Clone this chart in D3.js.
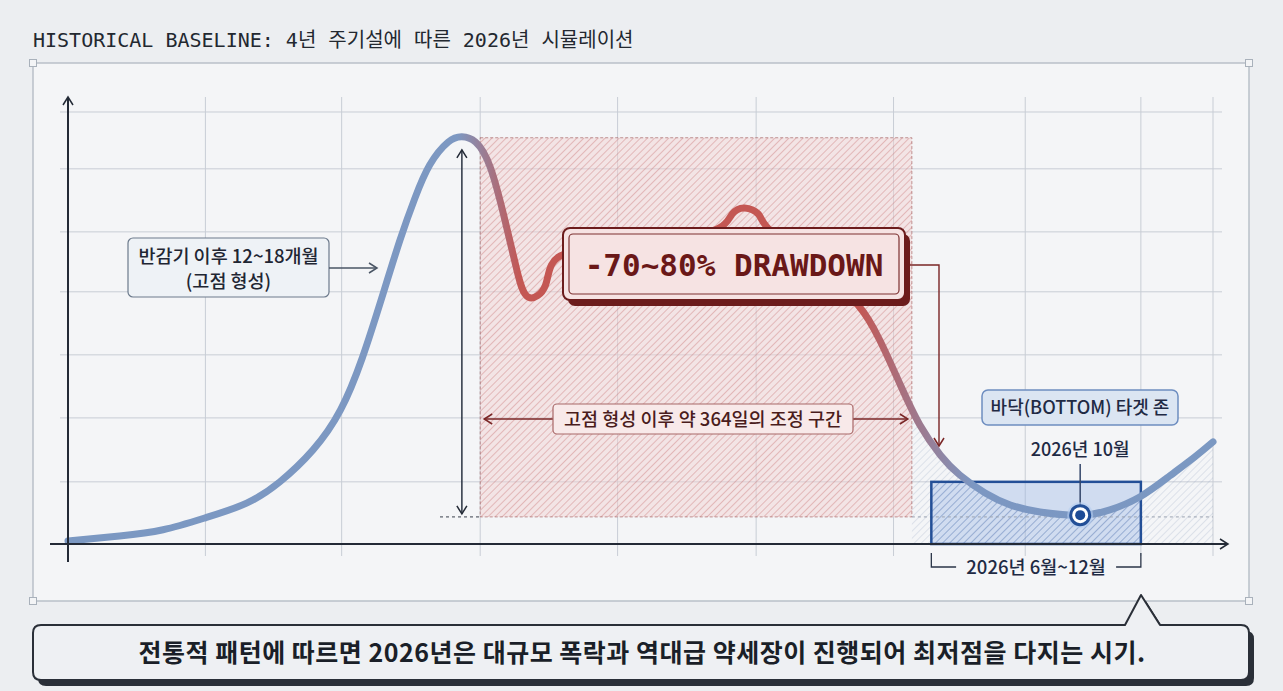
<!DOCTYPE html>
<html>
<head>
<meta charset="utf-8">
<script src="https://cdn.jsdelivr.net/npm/d3@7"></script>
<style>
    body { margin: 0; background: #eceef1; }
    svg { display: block; }
</style>
</head>
<body>
<div id="chart"></div>
<script>
// Cycle curve: t = position along the cycle (0..100), v = relative price level (0..100)
const curveT = [0, 4.5, 8.3, 12.0, 15.6, 18.5, 21.4, 23.8, 25.7, 27.4, 29.0, 30.3, 31.6, 33.2, 34.4, 35.6, 36.9, 38.2, 39.2,
    40.2, 41.7, 43.0, 48.2, 53.4, 56.9, 58.0, 59.1, 60.3, 61.1, 63.9, 66.6, 69.0, 70.9, 72.7, 74.4, 76.2, 77.9, 80.1,
    82.3, 84.9, 88.4, 91.0, 93.6, 96.2, 98.4, 100];
const curveV = [0.7, 1.8, 3.2, 5.9, 9.2, 14.0, 21.2, 30.2, 41.9, 55.4, 68.5, 77.9, 85.4, 90.5, 91.7, 90.5, 84.7, 72.5, 61.7,
    55.6, 58.3, 64.9, 66.4, 68.5, 71.2, 74.3, 75.7, 74.3, 71.2, 64.9, 59.2, 53.8, 45.9, 35.8, 26.8, 20.0, 15.5, 11.5,
    8.8, 7.2, 6.5, 7.7, 10.6, 15.3, 19.6, 23.0];

// grid lines
const gridT = [12.0, 23.9, 36.0, 48.0, 60.1, 72.1, 83.6, 93.7, 100];
const gridV = [97.3, 84.5, 70.3, 56.8, 42.6, 28.4, 14.0];

// zones
const peakT = 34.4, peakV = 91.7;
const floorV = 6.1;
const drawdownT = [36.0, 73.7];
const drawdownV = [floorV, 91.5];
const bottomZoneT = [75.4, 93.7];
const bottomZoneV = [0, 14.0];
const bottomT = 88.4, bottomV = 6.5;
const tailHatchT = [73.7, 100];

// texts
const titleText = 'HISTORICAL BASELINE: 4년 주기설에 따른 2026년 시뮬레이션';
const halvingLines = ['반감기 이후 12~18개월', '(고점 형성)'];
const drawdownLabel = '-70~80% DRAWDOWN';
const correctionLabel = '고점 형성 이후 약 364일의 조정 구간';
const bottomZoneLabel = '바닥(BOTTOM) 타겟 존';
const bottomPointLabel = '2026년 10월';
const bottomRangeLabel = '2026년 6월~12월';
const footerText = '전통적 패턴에 따르면 2026년은 대규모 폭락과 역대급 약세장이 진행되어 최저점을 다지는 시기.';

const width = 1283, height = 691;
const KR = '"Noto Sans CJK KR", "Noto Sans", sans-serif';
const MONO = '"DejaVu Sans Mono", "Noto Sans CJK KR", monospace';

const svg = d3.select('#chart').append('svg')
    .attr('width', width)
    .attr('height', height);

const x = d3.scaleLinear().domain([0, 100]).range([68, 1213]);
const y = d3.scaleLinear().domain([0, 100]).range([544, 100]);
const smooth = d3.curveNatural;

const defs = svg.append('defs');

// hatch patterns
function hatch(id, bg, line, size) {
    const p = defs.append('pattern')
        .attr('id', id)
        .attr('patternUnits', 'userSpaceOnUse')
        .attr('width', size).attr('height', size)
        .attr('patternTransform', 'rotate(45)');
    if (bg) p.append('rect').attr('width', size).attr('height', size).attr('fill', bg);
    p.append('line')
        .attr('x1', 0).attr('y1', 0).attr('x2', 0).attr('y2', size)
        .attr('stroke', line).attr('stroke-width', 1.4);
}
hatch('hatchRed', 'rgba(242,206,206,0.45)', 'rgba(190,95,95,0.48)', 5);
hatch('hatchGray', null, 'rgba(140,158,185,0.35)', 5);
hatch('hatchBlue', null, 'rgba(55,95,165,0.42)', 5);

// curve gradient blue -> red -> blue
const grad = defs.append('linearGradient')
    .attr('id', 'curveGrad')
    .attr('gradientUnits', 'userSpaceOnUse')
    .attr('x1', x(0)).attr('x2', x(100)).attr('y1', 0).attr('y2', 0);
[[0, '#7b98c2'], [34, '#7d98c2'], [39.5, '#c45753'], [69, '#c45753'], [79, '#7c97c2'], [100, '#7b98c2']]
    .forEach(([t, c]) => grad.append('stop').attr('offset', t + '%').attr('stop-color', c));

// arrow heads
function chevron(id, color) {
    defs.append('marker')
        .attr('id', id)
        .attr('viewBox', '0 0 12 12')
        .attr('refX', 10).attr('refY', 6)
        .attr('markerWidth', 12).attr('markerHeight', 12)
        .attr('markerUnits', 'userSpaceOnUse')
        .attr('orient', 'auto-start-reverse')
        .append('path')
        .attr('d', 'M2,1 L10,6 L2,11')
        .attr('fill', 'none')
        .attr('stroke', color)
        .attr('stroke-width', 1.5);
}
chevron('arrDark', '#232a36');
chevron('arrGray', '#4a5565');
chevron('arrRed', '#7a2626');

// ---- frame
svg.append('text')
    .attr('x', 33).attr('y', 47)
    .attr('font-family', MONO)
    .attr('font-size', 20)
    .attr('fill', '#232830')
    .text(titleText);

svg.append('rect')
    .attr('x', 33).attr('y', 63).attr('width', 1216).attr('height', 538)
    .attr('fill', '#f4f5f7')
    .attr('stroke', '#b9c0c9').attr('stroke-width', 1.5);

[[33, 63], [1249, 63], [33, 601], [1249, 601]].forEach(([hx, hy]) => {
    svg.append('rect')
        .attr('x', hx - 3.5).attr('y', hy - 3.5).attr('width', 7).attr('height', 7)
        .attr('fill', '#f3f4f6').attr('stroke', '#a9b1bb').attr('stroke-width', 1);
});

// ---- grid
const grid = svg.append('g').attr('stroke', '#c8cdd5').attr('stroke-width', 1);
grid.selectAll('.gv').data(gridT).enter().append('line')
    .attr('x1', d => x(d)).attr('x2', d => x(d))
    .attr('y1', 97).attr('y2', 556);
grid.selectAll('.gh').data(gridV).enter().append('line')
    .attr('x1', 60).attr('x2', 1222)
    .attr('y1', d => y(d)).attr('y2', d => y(d));

// ---- drawdown zone
svg.append('rect')
    .attr('x', x(drawdownT[0])).attr('y', y(drawdownV[1]))
    .attr('width', x(drawdownT[1]) - x(drawdownT[0]))
    .attr('height', y(drawdownV[0]) - y(drawdownV[1]))
    .attr('fill', 'url(#hatchRed)')
    .attr('stroke', 'rgba(150,70,70,0.55)')
    .attr('stroke-width', 1)
    .attr('stroke-dasharray', '3,2');

// hatched area under the tail of the curve
const curveData = curveT.map((t, i) => ({ t, v: curveV[i] }));

defs.append('clipPath').attr('id', 'tailClip')
    .append('rect')
    .attr('x', x(tailHatchT[0])).attr('y', 90)
    .attr('width', x(tailHatchT[1]) - x(tailHatchT[0])).attr('height', y(0) - 90);

const underCurve = d3.area().x(d => x(d.t)).y0(y(0)).y1(d => y(d.v)).curve(smooth);

svg.append('path')
    .datum(curveData)
    .attr('clip-path', 'url(#tailClip)')
    .attr('d', underCurve)
    .attr('fill', 'url(#hatchGray)');

// bottom zone box fill
const bz = {
    x: x(bottomZoneT[0]), y: y(bottomZoneV[1]),
    w: x(bottomZoneT[1]) - x(bottomZoneT[0]), h: y(bottomZoneV[0]) - y(bottomZoneV[1])
};
defs.append('clipPath').attr('id', 'bzClip')
    .append('rect').attr('x', bz.x).attr('y', bz.y).attr('width', bz.w).attr('height', bz.h);

svg.append('rect')
    .attr('x', bz.x).attr('y', bz.y).attr('width', bz.w).attr('height', bz.h)
    .attr('fill', 'rgba(150,180,228,0.38)');

svg.append('path')
    .datum(curveData)
    .attr('clip-path', 'url(#bzClip)')
    .attr('d', underCurve)
    .attr('fill', 'url(#hatchBlue)');

// floor dashed line
svg.append('line')
    .attr('x1', 440).attr('x2', x(drawdownT[0]))
    .attr('y1', y(floorV)).attr('y2', y(floorV))
    .attr('stroke', '#3a414d').attr('stroke-width', 1).attr('stroke-dasharray', '3,3');
svg.append('line')
    .attr('x1', x(drawdownT[1])).attr('x2', x(100))
    .attr('y1', y(floorV)).attr('y2', y(floorV))
    .attr('stroke', '#9aa3b0').attr('stroke-width', 1).attr('stroke-dasharray', '3,3');

// bottom zone border
svg.append('rect')
    .attr('x', bz.x).attr('y', bz.y).attr('width', bz.w).attr('height', bz.h)
    .attr('fill', 'none')
    .attr('stroke', '#234f97').attr('stroke-width', 2.5);

// ---- curve
svg.append('path')
    .datum(curveData)
    .attr('d', d3.line().x(d => x(d.t)).y(d => y(d.v)).curve(smooth))
    .attr('fill', 'none')
    .attr('stroke', 'url(#curveGrad)')
    .attr('stroke-width', 7)
    .attr('stroke-linecap', 'round');

// ---- axes
svg.append('line')
    .attr('x1', x(0)).attr('x2', x(0)).attr('y1', 562).attr('y2', 97)
    .attr('stroke', '#232a36').attr('stroke-width', 2)
    .attr('marker-end', 'url(#arrDark)');
svg.append('line')
    .attr('x1', 50).attr('x2', 1228).attr('y1', y(0)).attr('y2', y(0))
    .attr('stroke', '#232a36').attr('stroke-width', 2)
    .attr('marker-end', 'url(#arrDark)');

// ---- peak-to-floor double arrow
svg.append('line')
    .attr('x1', x(peakT)).attr('x2', x(peakT))
    .attr('y1', y(peakV) + 13).attr('y2', y(floorV) - 3)
    .attr('stroke', '#2a3342').attr('stroke-width', 1.5)
    .attr('marker-start', 'url(#arrDark)')
    .attr('marker-end', 'url(#arrDark)');

// ---- halving label
const hl = svg.append('g');
hl.append('rect')
    .attr('x', 128).attr('y', 238).attr('width', 201).attr('height', 59).attr('rx', 5)
    .attr('fill', '#eef2f6').attr('stroke', '#6c7a8c').attr('stroke-width', 1.2);
hl.selectAll('text').data(halvingLines).enter().append('text')
    .attr('x', 228.5).attr('y', (d, i) => 263 + i * 25)
    .attr('text-anchor', 'middle')
    .attr('font-family', KR).attr('font-size', 18.5).attr('font-weight', 500)
    .attr('fill', '#1f2633')
    .text(d => d);
hl.append('line')
    .attr('x1', 329).attr('x2', 377).attr('y1', 268).attr('y2', 268)
    .attr('stroke', '#4a5565').attr('stroke-width', 1.3)
    .attr('marker-end', 'url(#arrGray)');

// ---- correction span arrow + label
svg.append('line')
    .attr('x1', x(drawdownT[0]) + 4).attr('x2', x(drawdownT[1]) - 4)
    .attr('y1', 419).attr('y2', 419)
    .attr('stroke', '#7a2626').attr('stroke-width', 1.4)
    .attr('marker-start', 'url(#arrRed)')
    .attr('marker-end', 'url(#arrRed)');
svg.append('rect')
    .attr('x', 553).attr('y', 404).attr('width', 300).attr('height', 30).attr('rx', 4)
    .attr('fill', '#f8e9e9').attr('stroke', '#a86868').attr('stroke-width', 1.2);
svg.append('text')
    .attr('x', 703).attr('y', 425.5)
    .attr('text-anchor', 'middle')
    .attr('font-family', KR).attr('font-size', 18.5).attr('font-weight', 500)
    .attr('fill', '#4a1c1c')
    .text(correctionLabel);

// ---- drawdown callout
svg.append('path')
    .attr('d', 'M905,265 H939 V446')
    .attr('fill', 'none')
    .attr('stroke', '#7a2626').attr('stroke-width', 1.4)
    .attr('marker-end', 'url(#arrRed)');
svg.append('rect')
    .attr('x', 568).attr('y', 234).attr('width', 342).attr('height', 72).attr('rx', 7)
    .attr('fill', '#6c1c1c');
svg.append('rect')
    .attr('x', 563).attr('y', 228).attr('width', 342).attr('height', 72).attr('rx', 7)
    .attr('fill', '#f6e3e3').attr('stroke', '#6c1c1c').attr('stroke-width', 2);
svg.append('rect')
    .attr('x', 569).attr('y', 234).attr('width', 330).attr('height', 60).attr('rx', 4)
    .attr('fill', 'none').attr('stroke', '#7d3030').attr('stroke-width', 1.2);
svg.append('text')
    .attr('x', 734).attr('y', 276)
    .attr('text-anchor', 'middle')
    .attr('font-family', MONO).attr('font-weight', 'bold').attr('font-size', 31)
    .attr('fill', '#6a1818')
    .text(drawdownLabel);

// ---- bottom zone labels
svg.append('rect')
    .attr('x', 982).attr('y', 390).attr('width', 196).attr('height', 35).attr('rx', 6)
    .attr('fill', '#dbe5f2').attr('stroke', '#6d8dc0').attr('stroke-width', 1.5);
svg.append('text')
    .attr('x', 1080).attr('y', 414)
    .attr('text-anchor', 'middle')
    .attr('font-family', KR).attr('font-size', 18).attr('font-weight', 500)
    .attr('fill', '#1f2a44')
    .text(bottomZoneLabel);
svg.append('text')
    .attr('x', x(bottomT)).attr('y', 456)
    .attr('text-anchor', 'middle')
    .attr('font-family', KR).attr('font-size', 18).attr('font-weight', 500)
    .attr('fill', '#1f2a44')
    .text(bottomPointLabel);
svg.append('line')
    .attr('x1', x(bottomT)).attr('x2', x(bottomT))
    .attr('y1', 464).attr('y2', y(bottomV) - 10)
    .attr('stroke', '#34466a').attr('stroke-width', 1.5);
svg.append('circle')
    .attr('cx', x(bottomT)).attr('cy', y(bottomV)).attr('r', 13)
    .attr('fill', 'rgba(180,205,240,0.6)');
svg.append('circle')
    .attr('cx', x(bottomT)).attr('cy', y(bottomV)).attr('r', 9.5)
    .attr('fill', '#ffffff').attr('stroke', '#234f97').attr('stroke-width', 3);
svg.append('circle')
    .attr('cx', x(bottomT)).attr('cy', y(bottomV)).attr('r', 5)
    .attr('fill', '#1d4b96');

// range bracket under the bottom zone
const bx0 = x(bottomZoneT[0]), bx1 = x(bottomZoneT[1]);
const bmid = (bx0 + bx1) / 2;
svg.append('path')
    .attr('d', `M${bx0},553 V567 H${bmid - 80} M${bmid + 80},567 H${bx1} V553`)
    .attr('fill', 'none')
    .attr('stroke', '#2a3548').attr('stroke-width', 1.3);
svg.append('text')
    .attr('x', bmid).attr('y', 573.5)
    .attr('text-anchor', 'middle')
    .attr('font-family', KR).attr('font-size', 18.5).attr('font-weight', 500)
    .attr('fill', '#1f2a44')
    .text(bottomRangeLabel);

// ---- footer banner
const banner = 'M41,625 H1125 L1141,595 L1160,625 H1241 Q1249,625 1249,633 V672 Q1249,680 1241,680 H41 Q33,680 33,672 V633 Q33,625 41,625 Z';
svg.append('path')
    .attr('d', banner)
    .attr('transform', 'translate(5,6)')
    .attr('fill', '#2a2f38');
svg.append('path')
    .attr('d', banner)
    .attr('fill', '#eef0f3')
    .attr('stroke', '#2a2f38').attr('stroke-width', 2)
    .attr('stroke-linejoin', 'round');
svg.append('text')
    .attr('x', 642).attr('y', 662)
    .attr('text-anchor', 'middle')
    .attr('font-family', KR).attr('font-weight', 'bold').attr('font-size', 25)
    .attr('letter-spacing', 0.5)
    .attr('fill', '#1a1f28')
    .text(footerText);
</script>
</body>
</html>
